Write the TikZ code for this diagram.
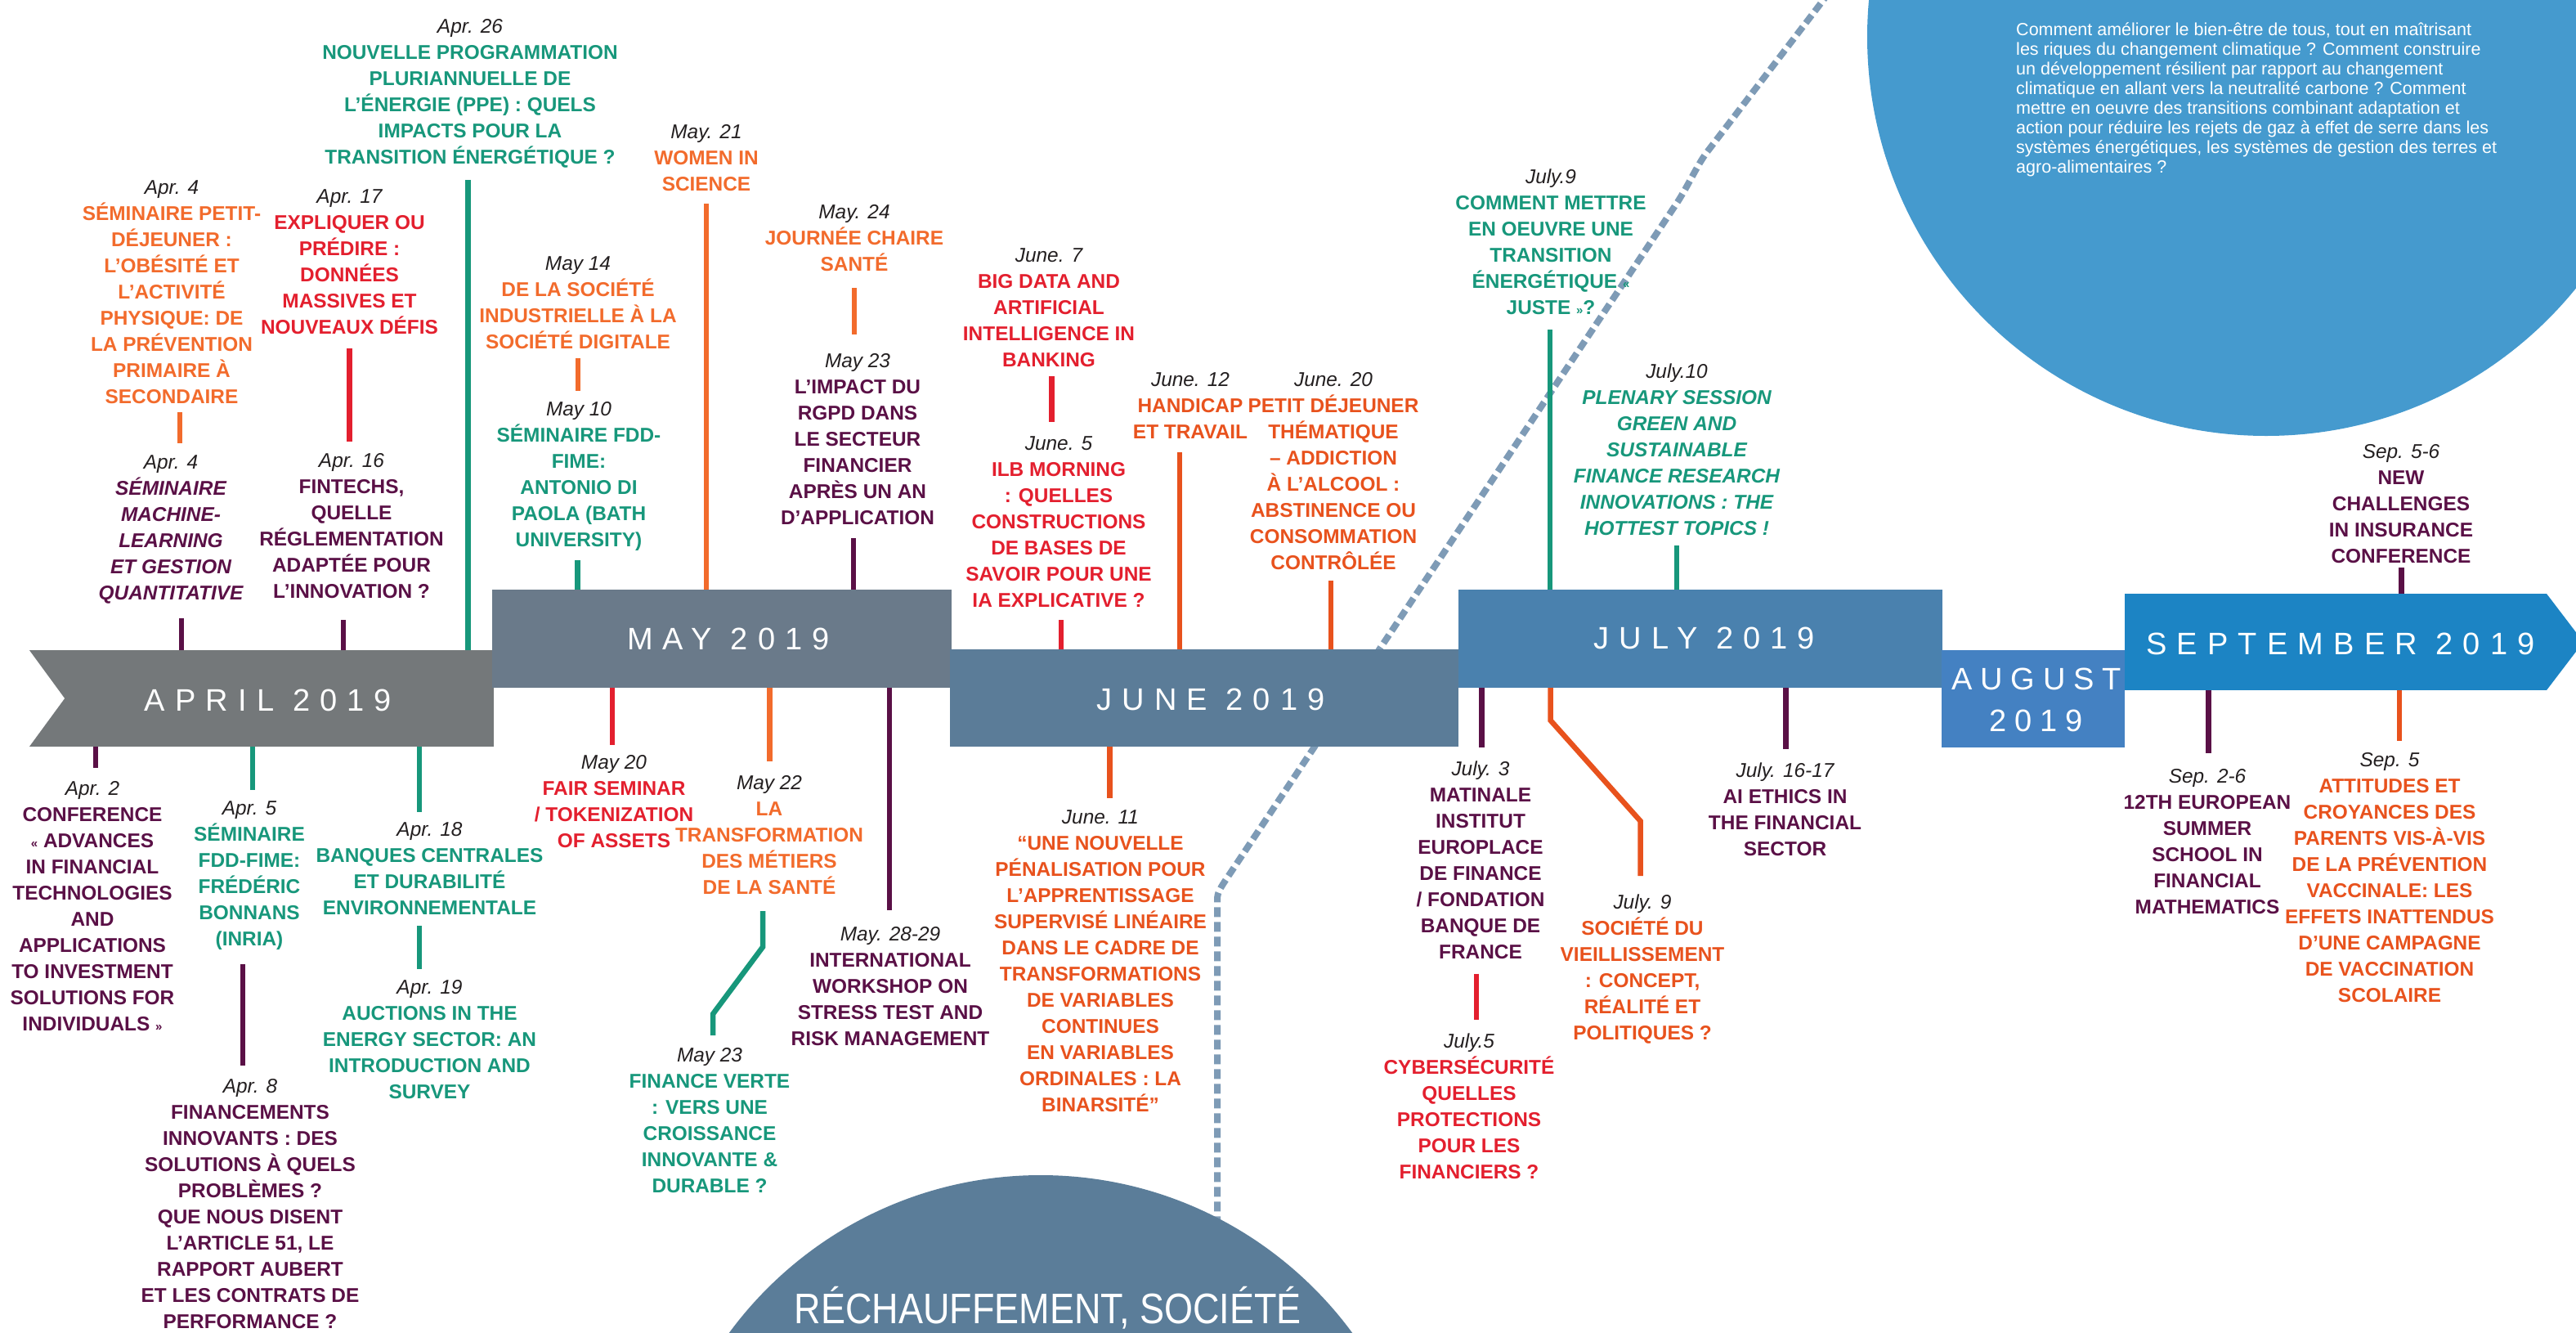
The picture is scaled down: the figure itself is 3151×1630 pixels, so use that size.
\documentclass[tikz,border=0pt]{standalone}
\usepackage{graphicx}
\usepackage{fontspec}
\setmainfont{Liberation Sans}
\newfontfamily\mfont[LetterSpace=32]{Liberation Sans}
\newfontfamily\mfontb[LetterSpace=26]{Liberation Sans}
\definecolor{tealc}{HTML}{17977B}
\definecolor{orc}{HTML}{F26B2C}
\definecolor{ortc}{HTML}{E8521D}
\definecolor{redc}{HTML}{E31F2E}
\definecolor{purc}{HTML}{5A1046}
\definecolor{datec}{HTML}{231F20}
\definecolor{aprc}{HTML}{74787A}
\definecolor{mayc}{HTML}{6A7A8A}
\definecolor{junc}{HTML}{5B7C98}
\definecolor{julc}{HTML}{4A81AE}
\definecolor{augc}{HTML}{4481C2}
\definecolor{sepc}{HTML}{1C84C4}
\definecolor{bluecirc}{HTML}{459ACE}
\definecolor{slatecirc}{HTML}{5B7D99}
\definecolor{dashc}{HTML}{7E9BB6}
\newcommand\evdate[1]{{\mdseries\itshape\color{datec}\rule{0pt}{22pt}#1}}
\newcommand\smallg[1]{{\fontsize{15}{15}\selectfont #1}}
\tikzset{
  evt/.style={anchor=north, align=center, inner sep=0pt, outer sep=0pt, font=\fontsize{24.4}{32}\selectfont\bfseries},
  evti/.style={evt, font=\fontsize{24.4}{32}\selectfont\bfseries\itshape},
  conn/.style={line width=6.5pt},
  bar/.style={rectangle, inner sep=0pt, outer sep=0pt, text=white, align=center, font=\mfont\fontsize{38}{51}\selectfont},
  dashline/.style={dashc, line width=8pt, dash pattern=on 12pt off 6pt},
}
\begin{document}
\begin{tikzpicture}[x=1pt,y=-1pt]
\useasboundingbox (0,0) rectangle (3151,1630);
\clip (0,0) rectangle (3151,1630);
% dashed path
\draw[dashline] (2238,-10) -- (2088,186) .. controls (2076,202) and (2066,225) .. (2052,247) -- (1500,1075) .. controls (1492,1087) and (1489,1092) .. (1489,1100) -- (1489,1500);
% circles
\fill[bluecirc] (2772,45) circle[radius=488pt];
\fill[slatecirc] (1273,1910) circle[radius=473pt];
\node[anchor=base, inner sep=0pt, text=white, font=\fontsize{45}{50}\selectfont] (rechauff) at (1282,1618) {\scalebox{1}[1.16]{RÉCHAUFFEMENT, SOCIÉTÉ}};
\node[anchor=north west, align=left, inner sep=0pt, text=white, font=\fontsize{21.5}{24}\selectfont] (circtext) at (2466,25) {\rule{0pt}{18pt}Comment améliorer le bien-être de tous, tout en maîtrisant\\
les riques du changement climatique ? Comment construire\\
un développement résilient par rapport au changement\\
climatique en allant vers la neutralité carbone ? Comment\\
mettre en oeuvre des transitions combinant adaptation et\\
action pour réduire les rejets de gaz à effet de serre dans les\\
systèmes énergétiques, les systèmes de gestion des terres et\\
agro-alimentaires ?};
% bars
\node[bar, fill=aprc, minimum width=568pt, minimum height=118pt] (aprbar) at (320,854) {};
\fill[white] (35,794) -- (79,854) -- (35,914) -- cycle;
\node[bar, fill=mayc, minimum width=562pt, minimum height=120pt] (maybar) at (883,781) {};
\node[bar, fill=junc, minimum width=622pt, minimum height=119pt] (junbar) at (1473,853.5) {};
\node[bar, fill=julc, minimum width=592pt, minimum height=120pt] (julbar) at (2080,781) {};
\node[bar, fill=augc, minimum width=224pt, minimum height=119pt] (augbar) at (2487,854.5) {};
\node[bar, fill=sepc, minimum width=516pt, minimum height=118pt] (sepbar) at (2857,785) {};
\fill[sepc] (sepbar.north east) -- (3160,785) -- (sepbar.south east) -- cycle;
\node[bar] (aprtxt) at (328,856) {APRIL 2019};
\node[bar] (maytxt) at (891,781) {MAY 2019};
\node[bar] (juntxt) at (1481,855) {JUNE 2019};
\node[bar] (jultxt) at (2085,780) {JULY 2019};
\node[bar, font=\mfontb\fontsize{38}{51}\selectfont] (augtxt) at (2491,856) {AUGUST\\2019};
\node[bar] (septxt) at (2863,787) {SEPTEMBER 2019};
% connectors
\draw[conn,tealc] (572.5,220) -- (572.5,0 |- aprbar.north);
\draw[conn,orc] (220,503.5) -- (220,542);
\draw[conn,redc] (427.5,426) -- (427.5,540);
\draw[conn,purc] (222,756) -- (222,0 |- aprbar.north);
\draw[conn,purc] (420,758) -- (420,0 |- aprbar.north);
\draw[conn,purc] (117,0 |- aprbar.south) -- (117,939);
\draw[conn,tealc] (309,0 |- aprbar.south) -- (309,966);
\draw[conn,purc] (297,1179) -- (297,1303);
\draw[conn,tealc] (513,0 |- aprbar.south) -- (513,993);
\draw[conn,tealc] (513,1132) -- (513,1184.5);
\draw[conn,orc] (707,437.5) -- (707,478);
\draw[conn,tealc] (706.6,684.6) -- (706.6,0 |- maybar.north);
\draw[conn,orc] (864,249) -- (864,0 |- maybar.north);
\draw[conn,orc] (1045,352) -- (1045,409);
\draw[conn,purc] (1044,658) -- (1044,0 |- maybar.north);
\draw[conn,redc] (1286.6,460) -- (1286.6,516);
\draw[conn,redc] (1298,758) -- (1298,0 |- junbar.north);
\draw[conn,ortc] (1443,553) -- (1443,0 |- junbar.north);
\draw[conn,ortc] (1628,709.6) -- (1628,0 |- junbar.north);
\draw[conn,ortc] (1357.5,0 |- junbar.south) -- (1357.5,976);
\draw[conn,redc] (749,0 |- maybar.south) -- (749,910.6);
\draw[conn,orc] (941.7,0 |- maybar.south) -- (941.7,931);
\draw[conn,tealc] (933,1114) -- (933,1158) -- (872,1240) -- (872,1266);
\draw[conn,purc] (1088,0 |- maybar.south) -- (1088,1113);
\draw[conn,tealc] (1896,403) -- (1896,0 |- julbar.north);
\draw[conn,tealc] (2051,667) -- (2051,0 |- julbar.north);
\draw[conn,purc] (1812.6,0 |- julbar.south) -- (1812.6,914);
\draw[conn,redc] (1806,1190.5) -- (1806,1246.6);
\draw[conn,ortc] (1896.7,0 |- julbar.south) -- (1896.7,881) -- (2006.6,1004) -- (2006.6,1071);
\draw[conn,purc] (2184.5,0 |- julbar.south) -- (2184.5,915.7);
\draw[conn,purc] (2937.4,694) -- (2937.4,0 |- sepbar.north);
\draw[conn,purc] (2701.4,0 |- sepbar.south) -- (2701.4,921);
\draw[conn,ortc] (2935,0 |- sepbar.south) -- (2935,906);
% events
\node[evt, text=tealc] (apr26) at (575,18.7) {\evdate{Apr. 26}\\NOUVELLE PROGRAMMATION\\PLURIANNUELLE DE\\L’ÉNERGIE (PPE) : QUELS\\IMPACTS POUR LA\\TRANSITION ÉNERGÉTIQUE ?};
\node[evt, text=orc] (apr4a) at (210,215.7) {\evdate{Apr. 4}\\SÉMINAIRE PETIT-\\DÉJEUNER :\\L’OBÉSITÉ ET\\L’ACTIVITÉ\\PHYSIQUE: DE\\LA PRÉVENTION\\PRIMAIRE À\\SECONDAIRE};
\node[evt, text=redc] (apr17) at (427.5,226.7) {\evdate{Apr. 17}\\EXPLIQUER OU\\PRÉDIRE :\\DONNÉES\\MASSIVES ET\\NOUVEAUX DÉFIS};
\node[evti, text=purc] (apr4b) at (209,551.7) {\evdate{Apr. 4}\\SÉMINAIRE\\MACHINE-\\LEARNING\\ET GESTION\\QUANTITATIVE};
\node[evt, text=purc] (apr16) at (430,549.7) {\evdate{Apr. 16}\\FINTECHS,\\QUELLE\\RÉGLEMENTATION\\ADAPTÉE POUR\\L’INNOVATION ?};
\node[evt, text=purc] (apr2) at (113,950.7) {\evdate{Apr. 2}\\CONFERENCE\\\smallg{«} ADVANCES\\IN FINANCIAL\\TECHNOLOGIES\\AND\\APPLICATIONS\\TO INVESTMENT\\SOLUTIONS FOR\\INDIVIDUALS \smallg{»}};
\node[evt, text=tealc] (apr5) at (305,974.7) {\evdate{Apr. 5}\\SÉMINAIRE\\FDD-FIME:\\FRÉDÉRIC\\BONNANS\\(INRIA)};
\node[evt, text=purc] (apr8) at (306,1314.3) {\evdate{Apr. 8}\\FINANCEMENTS\\INNOVANTS : DES\\SOLUTIONS À QUELS\\PROBLÈMES ?\\QUE NOUS DISENT\\L’ARTICLE 51, LE\\RAPPORT AUBERT\\ET LES CONTRATS DE\\PERFORMANCE ?};
\node[evt, text=tealc] (apr18) at (525.5,1000.7) {\evdate{Apr. 18}\\BANQUES CENTRALES\\ET DURABILITÉ\\ENVIRONNEMENTALE};
\node[evt, text=tealc] (apr19) at (525.5,1193.3) {\evdate{Apr. 19}\\AUCTIONS IN THE\\ENERGY SECTOR: AN\\INTRODUCTION AND\\SURVEY};
\node[evt, text=orc] (may14) at (707,308.2) {\evdate{May 14}\\DE LA SOCIÉTÉ\\INDUSTRIELLE À LA\\SOCIÉTÉ DIGITALE};
\node[evt, text=tealc] (may10) at (708,486.1) {\evdate{May 10}\\SÉMINAIRE FDD-\\FIME:\\ANTONIO DI\\PAOLA (BATH\\UNIVERSITY)};
\node[evt, text=orc] (may21) at (864,147.7) {\evdate{May. 21}\\WOMEN IN\\SCIENCE};
\node[evt, text=orc] (may24) at (1045,245.7) {\evdate{May. 24}\\JOURNÉE CHAIRE\\SANTÉ};
\node[evt, text=purc] (may23a) at (1049,427.7) {\evdate{May 23}\\L’IMPACT DU\\RGPD DANS\\LE SECTEUR\\FINANCIER\\APRÈS UN AN\\D’APPLICATION};
\node[evt, text=redc] (jun7) at (1283,298.2) {\evdate{June. 7}\\BIG DATA AND\\ARTIFICIAL\\INTELLIGENCE IN\\BANKING};
\node[evt, text=redc] (jun5) at (1295,528.7) {\evdate{June. 5}\\ILB MORNING\\: QUELLES\\CONSTRUCTIONS\\DE BASES DE\\SAVOIR POUR UNE\\IA EXPLICATIVE ?};
\node[evt, text=ortc] (jun12) at (1456,450.7) {\evdate{June. 12}\\HANDICAP\\ET TRAVAIL};
\node[evt, text=ortc] (jun20) at (1631,450.7) {\evdate{June. 20}\\PETIT DÉJEUNER\\THÉMATIQUE\\– ADDICTION\\À L’ALCOOL :\\ABSTINENCE OU\\CONSOMMATION\\CONTRÔLÉE};
\node[evt, text=ortc] (jun11) at (1346,985.7) {\evdate{June. 11}\\“UNE NOUVELLE\\PÉNALISATION POUR\\L’APPRENTISSAGE\\SUPERVISÉ LINÉAIRE\\DANS LE CADRE DE\\TRANSFORMATIONS\\DE VARIABLES\\CONTINUES\\EN VARIABLES\\ORDINALES : LA\\BINARSITÉ”};
\node[evt, text=redc] (may20) at (751,918.7) {\evdate{May 20}\\FAIR SEMINAR\\/ TOKENIZATION\\OF ASSETS};
\node[evt, text=orc] (may22) at (941,943.7) {\evdate{May 22}\\LA\\TRANSFORMATION\\DES MÉTIERS\\DE LA SANTÉ};
\node[evt, text=tealc] (may23b) at (868,1276.7) {\evdate{May 23}\\FINANCE VERTE\\: VERS UNE\\CROISSANCE\\INNOVANTE \&\\DURABLE ?};
\node[evt, text=purc] (may28) at (1089,1128.7) {\evdate{May. 28-29}\\INTERNATIONAL\\WORKSHOP ON\\STRESS TEST AND\\RISK MANAGEMENT};
\node[evt, text=tealc] (jul9a) at (1897,202.7) {\evdate{July.9}\\COMMENT METTRE\\EN OEUVRE UNE\\TRANSITION\\ÉNERGÉTIQUE \smallg{«}\\JUSTE \smallg{»}?};
\node[evti, text=tealc] (jul10) at (2051,440.7) {\evdate{July.10}\\PLENARY SESSION\\GREEN AND\\SUSTAINABLE\\FINANCE RESEARCH\\INNOVATIONS : THE\\HOTTEST TOPICS !};
\node[evt, text=purc] (jul3) at (1811,926.7) {\evdate{July. 3}\\MATINALE\\INSTITUT\\EUROPLACE\\DE FINANCE\\/ FONDATION\\BANQUE DE\\FRANCE};
\node[evt, text=redc] (jul5) at (1797,1259.7) {\evdate{July.5}\\CYBERSÉCURITÉ\\QUELLES\\PROTECTIONS\\POUR LES\\FINANCIERS ?};
\node[evt, text=ortc] (jul9b) at (2009,1089.7) {\evdate{July. 9}\\SOCIÉTÉ DU\\VIEILLISSEMENT\\: CONCEPT,\\RÉALITÉ ET\\POLITIQUES ?};
\node[evt, text=purc] (jul16) at (2183.5,928.7) {\evdate{July. 16-17}\\AI ETHICS IN\\THE FINANCIAL\\SECTOR};
\node[evt, text=purc] (sep56) at (2937,538.3) {\evdate{Sep. 5-6}\\NEW\\CHALLENGES\\IN INSURANCE\\CONFERENCE};
\node[evt, text=purc] (sep26) at (2700,935.7) {\evdate{Sep. 2-6}\\12TH EUROPEAN\\SUMMER\\SCHOOL IN\\FINANCIAL\\MATHEMATICS};
\node[evt, text=ortc] (sep5) at (2923,915.7) {\evdate{Sep. 5}\\ATTITUDES ET\\CROYANCES DES\\PARENTS VIS-À-VIS\\DE LA PRÉVENTION\\VACCINALE: LES\\EFFETS INATTENDUS\\D’UNE CAMPAGNE\\DE VACCINATION\\SCOLAIRE};
\end{tikzpicture}
\end{document}
